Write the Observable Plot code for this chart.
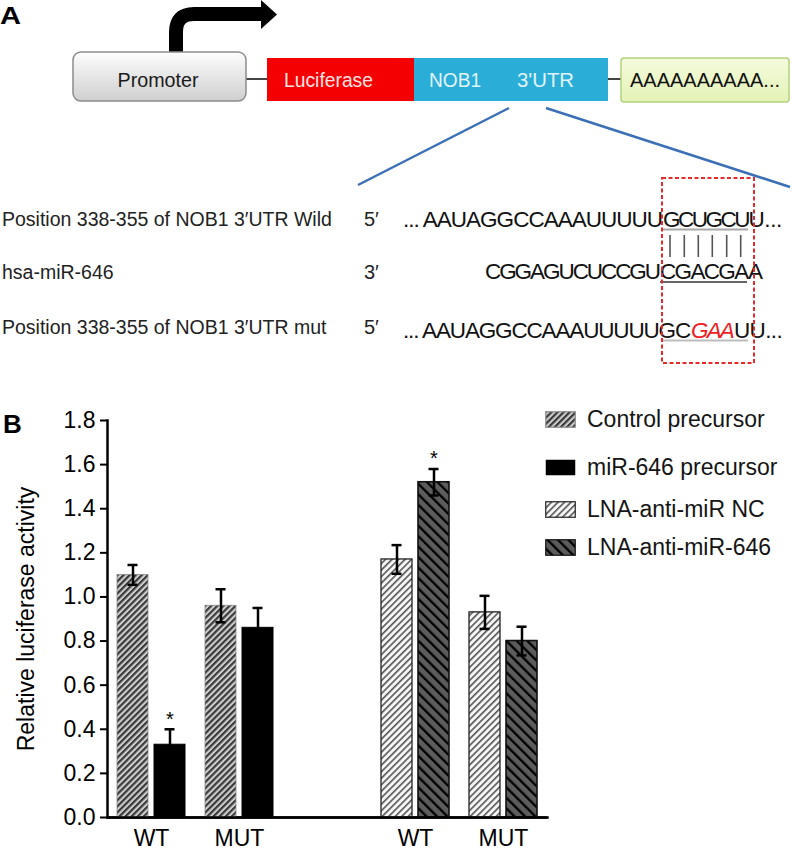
<!DOCTYPE html>
<html><head><meta charset="utf-8">
<script src="https://cdn.jsdelivr.net/npm/d3@7"></script>
<script src="https://cdn.jsdelivr.net/npm/@observablehq/plot@0.6"></script>
<style>
html,body{margin:0;padding:0;background:#fff;}
#root{position:relative;width:792px;height:854px;overflow:hidden;font-family:"Liberation Sans",Arial,Helvetica,sans-serif;background:#fff;}
#panelA{position:absolute;left:0;top:0;}
#panelB{position:absolute;left:0;top:380px;}
#labelB{position:absolute;left:3px;top:404px;font-weight:bold;font-size:26px;line-height:40px;color:#000;}
.lg-row{position:absolute;left:545px;height:27px;display:flex;align-items:center;font-size:23px;color:#151515;white-space:nowrap;}
.lg-row svg{margin-right:11px;flex:none;}
</style></head>
<body>
<svg width="0" height="0" style="position:absolute">
  <defs>
    <pattern id="pat-ctrl" patternUnits="userSpaceOnUse" width="4.3" height="4.3" patternTransform="rotate(45)">
      <rect width="4.3" height="4.3" fill="#cfcfcf"></rect><rect width="2.2" height="4.3" fill="#3a3a3a"></rect>
    </pattern>
    <pattern id="pat-nc" patternUnits="userSpaceOnUse" width="4.6" height="4.6" patternTransform="rotate(45)">
      <rect width="4.6" height="4.6" fill="#f6f6f6"></rect><rect width="1.6" height="4.6" fill="#555"></rect>
    </pattern>
    <pattern id="pat-lna" patternUnits="userSpaceOnUse" width="7.4" height="7.4" patternTransform="rotate(-45)">
      <rect width="7.4" height="7.4" fill="#5c5c5c"></rect><rect width="2.3" height="7.4" fill="#000"></rect>
    </pattern>
    <linearGradient id="grad-prom" x1="0" y1="0" x2="0" y2="1">
      <stop offset="0" stop-color="#fdfdfd"></stop><stop offset="1" stop-color="#cfcfcf"></stop>
    </linearGradient>
    <linearGradient id="grad-poly" x1="0" y1="0" x2="0" y2="1">
      <stop offset="0" stop-color="#f5fbdc"></stop><stop offset="1" stop-color="#e3f2b6"></stop>
    </linearGradient>
  </defs>
</svg>
<div id="root">
  <svg id="panelA" width="792" height="380"></svg>
  <div id="panelB"></div>
  <div id="labelB">B</div>
  <div id="legend"></div>
</div>
<script>
// ---------- Panel B data ----------
const facetIds = ["WT-pre", "MUT-pre", "gap", "WT-lna", "MUT-lna"];
const facetLabels = ["WT", "MUT", "", "WT", "MUT"];
const seriesNames = ["Control precursor", "miR-646 precursor", "LNA-anti-miR NC", "LNA-anti-miR-646"];
const barFacet = ["WT-pre", "WT-pre", "MUT-pre", "MUT-pre", "WT-lna", "WT-lna", "MUT-lna", "MUT-lna"];
const barSeries = ["Control precursor", "miR-646 precursor", "Control precursor", "miR-646 precursor",
                   "LNA-anti-miR NC", "LNA-anti-miR-646", "LNA-anti-miR NC", "LNA-anti-miR-646"];
const barArm = ["control", "treatment", "control", "treatment", "control", "treatment", "control", "treatment"];
const barValue = [1.10, 0.33, 0.96, 0.86, 1.17, 1.52, 0.93, 0.80];
const barError = [0.045, 0.07, 0.075, 0.09, 0.065, 0.06, 0.075, 0.065];
const barSignif = ["", "*", "", "", "", "*", "", ""];
const yTicks = [0, 0.2, 0.4, 0.6, 0.8, 1.0, 1.2, 1.4, 1.6, 1.8];
const yLabel = "Relative luciferase activity";

// ---------- Panel A texts ----------
const constructLabels = ["Promoter", "Luciferase", "NOB1", "3'UTR", "AAAAAAAAAA..."];
const rowLabels = ["Position 338-355 of NOB1 3\u2032UTR Wild", "hsa-miR-646", "Position 338-355 of NOB1 3\u2032UTR mut"];
const rowEnds = ["5\u2032", "3\u2032", "5\u2032"];
const seqWild = ["... AAUAGGCCAAAUUUUU", "GCUGCU", "U..."];
const seqMir = ["CGGAGUCUCCGU", "CGACGA", "A"];
const seqMut = ["... AAUAGGCCAAAUUUUUGC", "GAA", "UU..."];

// ---------- styles (not data) ----------
const seriesFill = ["url(#pat-ctrl)", "#000", "url(#pat-nc)", "url(#pat-lna)"];
const seriesStroke = ["#8a8a8a", "#000", "#222", "#111"];
const seriesStrokeWidth = [0.8, 1, 1.3, 1.6];
const FONT = "Liberation Sans, Arial, Helvetica, sans-serif";

// ---------- Panel A drawing ----------
(function drawA() {
  const s = d3.select("#panelA");
  s.append("text").attr("x", 0).attr("y", 24).attr("font-family", FONT).attr("font-weight", "bold")
    .attr("font-size", 23).attr("textLength", 21).attr("lengthAdjust", "spacingAndGlyphs").text("A");
  // transcription arrow
  s.append("path").attr("d", "M176,56 V32 Q176,14 194,14 H264").attr("fill", "none")
    .attr("stroke", "#000").attr("stroke-width", 14);
  s.append("path").attr("d", "M261,0 L277,14.5 L261,29 Z").attr("fill", "#000");
  // connectors
  s.append("line").attr("x1", 246).attr("x2", 268).attr("y1", 79).attr("y2", 79).attr("stroke", "#444").attr("stroke-width", 2);
  s.append("line").attr("x1", 607).attr("x2", 622).attr("y1", 79).attr("y2", 79).attr("stroke", "#444").attr("stroke-width", 2);
  // promoter
  s.append("rect").attr("x", 73).attr("y", 52).attr("width", 173).attr("height", 49).attr("rx", 8)
    .attr("fill", "url(#grad-prom)").attr("stroke", "#8c8c8c").attr("stroke-width", 1.5);
  s.append("text").attr("x", 158).attr("y", 86.5).attr("text-anchor", "middle").attr("font-family", FONT)
    .attr("font-size", 21).attr("textLength", 81).attr("lengthAdjust", "spacingAndGlyphs")
    .attr("fill", "#1a1a1a").text(constructLabels[0]);
  // luciferase
  s.append("rect").attr("x", 267).attr("y", 58).attr("width", 147).attr("height", 43).attr("fill", "#f50000");
  s.append("text").attr("x", 284).attr("y", 86.5).attr("font-family", FONT).attr("font-size", 20.5)
    .attr("textLength", 89).attr("lengthAdjust", "spacingAndGlyphs").attr("fill", "#ffe4e4").text(constructLabels[1]);
  // NOB1 3'UTR
  s.append("rect").attr("x", 414).attr("y", 58).attr("width", 194).attr("height", 43).attr("fill", "#2aaed8");
  s.append("text").attr("x", 429).attr("y", 86.5).attr("font-family", FONT).attr("font-size", 20.5)
    .attr("textLength", 52).attr("lengthAdjust", "spacingAndGlyphs").attr("fill", "#e2f4fb").text(constructLabels[2]);
  s.append("text").attr("x", 517).attr("y", 86.5).attr("font-family", FONT).attr("font-size", 20.5)
    .attr("textLength", 57).attr("lengthAdjust", "spacingAndGlyphs").attr("fill", "#e2f4fb").text(constructLabels[3]);
  // poly A
  s.append("rect").attr("x", 621).attr("y", 58).attr("width", 168).attr("height", 44).attr("rx", 3)
    .attr("fill", "url(#grad-poly)").attr("stroke", "#b3d47f").attr("stroke-width", 1.5);
  s.append("text").attr("x", 630).attr("y", 87).attr("font-family", FONT).attr("font-size", 21)
    .attr("textLength", 150).attr("lengthAdjust", "spacingAndGlyphs").attr("fill", "#111").text(constructLabels[4]);
  // zoom lines
  s.append("line").attr("x1", 509).attr("y1", 108).attr("x2", 358).attr("y2", 185).attr("stroke", "#3b6fb6").attr("stroke-width", 2.5);
  s.append("line").attr("x1", 546).attr("y1", 108).attr("x2", 790).attr("y2", 187).attr("stroke", "#3b6fb6").attr("stroke-width", 2.5);

  // row labels
  const rowBase = [226, 279, 334];
  rowLabels.forEach((t, i) => {
    s.append("text").attr("x", 2).attr("y", rowBase[i]).attr("font-family", FONT).attr("font-size", 19.5)
      .attr("fill", "#222").text(t);
    s.append("text").attr("x", 364).attr("y", rowBase[i]).attr("font-family", FONT).attr("font-size", 20)
      .attr("fill", "#222").text(rowEnds[i]);
  });
  // sequences: one text per row, segments as tspans placed so the pairing stays aligned
  function seqRow(segs, xs, ends, y, styles) {
    const t = s.append("text").attr("y", y).attr("font-family", FONT).attr("font-size", 22.5).attr("fill", "#111");
    segs.forEach((txt, k) => {
      const sp = t.append("tspan").attr("x", xs[k]).text(txt);
      const st = styles && styles[k];
      if (st) sp.attr("fill", st.fill).attr("font-style", st.italic ? "italic" : null);
      const natural = sp.node().getComputedTextLength();
      sp.style("letter-spacing", ((ends[k] - xs[k]) - natural) / txt.length + "px");
    });
  }
  seqRow(seqWild, [403, 663, 748.5], [662, 748, 782], 226.5);
  seqRow(seqMir, [485, 660, 748], [659, 747.5, 762], 278.5);
  seqRow(seqMut, [403, 691, 734], [690, 733, 782], 338, [null, {fill: "#ee1c24", italic: true}, null]);
  // underlines
  s.append("line").attr("x1", 663).attr("x2", 748).attr("y1", 229.5).attr("y2", 229.5).attr("stroke", "#a8a8a8").attr("stroke-width", 2);
  s.append("line").attr("x1", 660).attr("x2", 747).attr("y1", 282).attr("y2", 282).attr("stroke", "#666").attr("stroke-width", 2);
  s.append("line").attr("x1", 663).attr("x2", 748).attr("y1", 340.5).attr("y2", 340.5).attr("stroke", "#bdbdbd").attr("stroke-width", 2);
  // base-pair ticks
  [670, 684.3, 698.3, 712.3, 726.7, 740.7].forEach(x => {
    s.append("line").attr("x1", x).attr("x2", x).attr("y1", 235).attr("y2", 257).attr("stroke", "#555").attr("stroke-width", 1.6);
  });
  // seed box
  s.append("rect").attr("x", 662).attr("y", 178).attr("width", 92).attr("height", 185).attr("fill", "none")
    .attr("stroke", "#e52a2a").attr("stroke-width", 2).attr("stroke-dasharray", "4 2.5");
})();

// ---------- Panel B chart ----------
const rows = barValue.map((v, i) => ({
  facet: barFacet[i], series: barSeries[i], arm: barArm[i], value: v, error: barError[i], signif: barSignif[i]
}));

const chart = Plot.plot({
  width: 792,
  height: 474,
  marginLeft: 100,
  marginRight: 239,
  marginTop: 40,
  marginBottom: 37,
  style: {fontFamily: FONT, fontSize: "23px", color: "#000", background: "transparent", overflow: "visible"},
  fx: {domain: facetIds, paddingInner: 0, paddingOuter: 0.05, label: null},
  x: {domain: ["control", "treatment"], paddingInner: 0.173, paddingOuter: 0.268, axis: null},
  y: {domain: [0, 1.8]},
  marks: [
    // baseline segment in every facet (keeps all facets, including the gap, present)
    Plot.ruleY(facetIds, {fx: d => d, y: () => 0, stroke: "#000", strokeWidth: 2.5}),
    ...seriesNames.map((s, i) => Plot.barY(rows.filter(d => d.series === s), {
      fx: "facet", x: "arm", y: "value",
      fill: seriesFill[i], stroke: seriesStroke[i], strokeWidth: seriesStrokeWidth[i]
    })),
    Plot.ruleX(rows, {fx: "facet", x: "arm", y1: d => d.value - d.error, y2: d => d.value + d.error, stroke: "#000", strokeWidth: 2.5}),
    Plot.tickY(rows, {fx: "facet", x: "arm", y: d => d.value + d.error, insetLeft: 10.5, insetRight: 10.5, stroke: "#000", strokeWidth: 2.5}),
    Plot.tickY(rows, {fx: "facet", x: "arm", y: d => d.value - d.error, insetLeft: 10.5, insetRight: 10.5, stroke: "#000", strokeWidth: 2.5}),
    Plot.text(rows.filter(d => d.signif), {fx: "facet", x: "arm", y: d => d.value + d.error, text: "signif", dy: -10, fontSize: 20}),
    Plot.frame({anchor: "bottom", facet: "super", stroke: "#000", strokeWidth: 2.5}),
    Plot.frame({anchor: "left", facet: "super", stroke: "#000", strokeWidth: 2.5}),
    Plot.axisY({ticks: yTicks, tickFormat: d3.format(".1f"), tickSize: 7, tickPadding: 5, strokeWidth: 2,
      label: yLabel, labelAnchor: "center", labelArrow: "none", labelOffset: 90}),
    Plot.axisFx({anchor: "bottom", tickFormat: id => facetLabels[facetIds.indexOf(id)], tickSize: 0, tickPadding: 12, label: null})
  ]
});
document.getElementById("panelB").appendChild(chart);

// ---------- Legend ----------
const legendTop = [406, 453.5, 495.5, 533.5];
const legend = d3.select("#legend");
seriesNames.forEach((name, i) => {
  const row = legend.append("div").attr("class", "lg-row").style("top", legendTop[i] + "px");
  const sw = row.append("svg").attr("width", 31).attr("height", 17);
  sw.append("rect").attr("x", 0.75).attr("y", 0.75).attr("width", 29.5).attr("height", 15.5)
    .attr("fill", seriesFill[i]).attr("stroke", seriesStroke[i]).attr("stroke-width", i === 1 ? 0 : 1.2);
  row.append("span").text(name);
});
</script>
</body></html>
